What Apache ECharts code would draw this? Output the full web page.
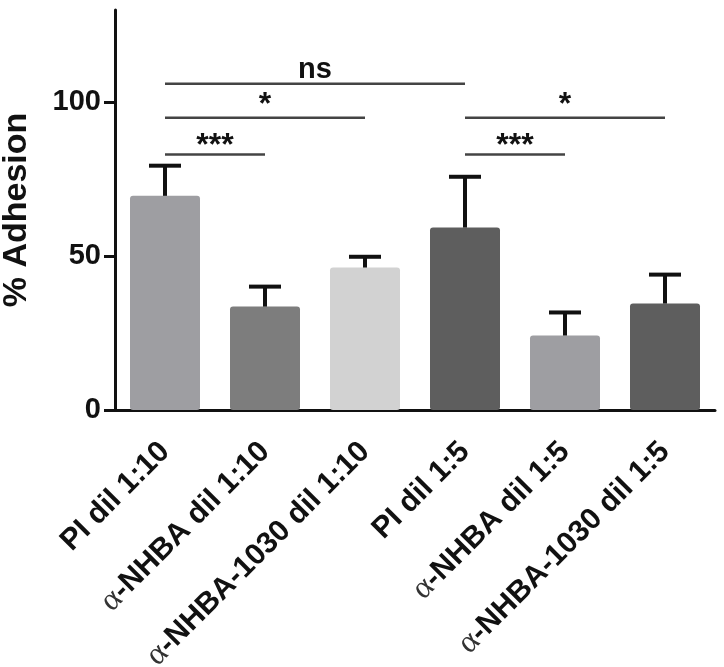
<!DOCTYPE html>
<html>
<head>
<meta charset="utf-8">
<script src="https://cdn.jsdelivr.net/npm/echarts@6/dist/echarts.min.js"></script>
<style>html,body{margin:0;padding:0;background:#fff}#c{width:724px;height:667px}</style>
</head>
<body>
<div id="c"></div>
<script>
var categories = ['PI dil 1:10', 'α-NHBA dil 1:10', 'α-NHBA-1030 dil 1:10', 'PI dil 1:5', 'α-NHBA dil 1:5', 'α-NHBA-1030 dil 1:5'];
var means = [69.6, 33.6, 46.3, 59.3, 24.2, 34.6];
var errorTops = [79.4, 40.1, 49.8, 75.8, 31.7, 44.0];
var barColors = ['#9e9ea2', '#7d7d7d', '#d2d2d2', '#5e5e5e', '#9e9ea2', '#5e5e5e'];
var yTicks = [0, 50, 100];
// significance brackets: [from category index, to category index, y value, label]
var sigStart = [0, 0, 0, 3, 3];
var sigEnd = [3, 2, 1, 5, 4];
var sigY = [106, 95, 83, 95, 83];
var sigLabels = ['ns', '*', '***', '*', '***'];

var chart = echarts.init(document.getElementById('c'));
var FONT = '"Liberation Sans", Arial, sans-serif';

var errData = means.map(function (m, i) { return [i, m, errorTops[i]]; });
var sigData = sigStart.map(function (s, i) { return [s, sigEnd[i], sigY[i], sigLabels[i]]; });

chart.setOption({
  animation: false,
  backgroundColor: '#fff',
  grid: { left: 115, right: 9, top: 10, bottom: 257, outerBoundsMode: 'none', containLabel: false },
  xAxis: {
    type: 'category',
    data: categories,
    axisLine: { lineStyle: { color: '#111', width: 3 } },
    axisTick: { alignWithLabel: true, length: 9, lineStyle: { color: '#111', width: 3 } },
    axisLabel: {
      rotate: 45,
      margin: 37,
      interval: 0,
      color: '#111',
      fontFamily: FONT,
      fontWeight: 'bold',
      fontSize: 30,
      formatter: function (v) {
        if (v.charAt(0) === 'α') return '{a|α}' + v.slice(1);
        return v;
      },
      rich: {
        a: { fontFamily: '"Liberation Serif", "DejaVu Serif", serif', fontWeight: 'normal', fontSize: 32, color: '#333' }
      }
    }
  },
  yAxis: {
    type: 'value',
    min: 0,
    max: 130,
    interval: 50,
    name: '% Adhesion',
    nameLocation: 'middle',
    nameGap: 81,
    nameTextStyle: { fontFamily: FONT, fontWeight: 'bold', fontSize: 34, color: '#111' },
    axisLine: { show: true, lineStyle: { color: '#111', width: 3 } },
    axisTick: { show: true, length: 11, customValues: yTicks, lineStyle: { color: '#111', width: 3 } },
    axisLabel: { customValues: yTicks, margin: 14, color: '#111', fontFamily: FONT, fontWeight: 'bold', fontSize: 29 },
    splitLine: { show: false }
  },
  series: [
    {
      type: 'bar',
      data: means.map(function (m, i) { return { value: m, itemStyle: { color: barColors[i] } }; }),
      barWidth: '70%',
      itemStyle: { borderRadius: 3 },
      z: 2
    },
    {
      type: 'custom',
      data: errData,
      z: 3,
      renderItem: function (params, api) {
        var x = api.value(0);
        var p0 = api.coord([x, api.value(1)]);
        var p1 = api.coord([x, api.value(2)]);
        var hw = 16;
        var st = { stroke: '#111', lineWidth: 4 };
        return {
          type: 'group',
          children: [
            { type: 'line', shape: { x1: p0[0], y1: p0[1], x2: p1[0], y2: p1[1] }, style: st },
            { type: 'line', shape: { x1: p1[0] - hw, y1: p1[1], x2: p1[0] + hw, y2: p1[1] }, style: st }
          ]
        };
      }
    },
    {
      type: 'custom',
      data: sigData,
      z: 4,
      renderItem: function (params, api) {
        var a = api.coord([api.value(0), api.value(2)]);
        var b = api.coord([api.value(1), api.value(2)]);
        var label = sigLabels[params.dataIndex];
        var offset = label === 'ns' ? 1 : (label === '*' ? 3 : 8);
        return {
          type: 'group',
          children: [
            { type: 'line', shape: { x1: a[0], y1: a[1], x2: b[0], y2: b[1] }, style: { stroke: '#444', lineWidth: 2.5 } },
            {
              type: 'text',
              x: (a[0] + b[0]) / 2,
              y: a[1] + offset,
              style: {
                text: label,
                fill: '#111',
                font: 'bold ' + (label === 'ns' ? 29 : 32) + 'px ' + FONT,
                textAlign: 'center',
                textVerticalAlign: 'bottom'
              }
            }
          ]
        };
      }
    }
  ]
});
</script>
</body>
</html>
